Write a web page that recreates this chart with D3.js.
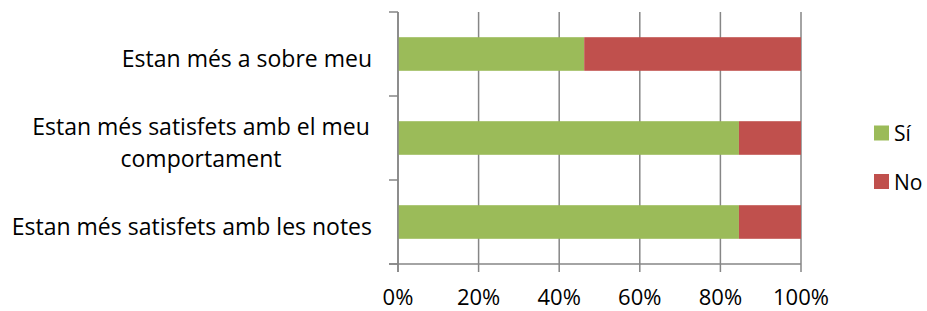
<!DOCTYPE html>
<html>
<head>
  <meta charset="utf-8">
  <title>Estan més...</title>
  <style>
    body { margin: 0; background: #fff; }
    svg text { font-family: "Open Sans", sans-serif; fill: #000; }
  </style>
  <script src="https://cdnjs.cloudflare.com/ajax/libs/d3/7.6.1/d3.min.js"></script>
</head>
<body>
<svg id="chart" width="927" height="311"></svg>
<script>
  var categories = [
    ["Estan més a sobre meu"],
    ["Estan més satisfets amb el meu", "comportament"],
    ["Estan més satisfets amb les notes"]
  ];
  var series = ["Sí", "No"];
  var si = [46.2, 84.6, 84.6];
  var no = [53.8, 15.4, 15.4];
  var ticks = [0, 20, 40, 60, 80, 100];
  var colors = ["#9bbb59", "#c0504d"];

  var svg = d3.select("#chart");
  var pLeft = 398, pRight = 801, pTop = 12, pBottom = 264;
  var fs = 23;

  var x = d3.scaleLinear().domain([0, 100]).range([pLeft, pRight]);
  var y = d3.scaleBand().domain(d3.range(categories.length)).range([pTop, pBottom]);
  var barH = y.bandwidth() * 0.4;

  // gridlines
  svg.append("g").selectAll("line").data(ticks).enter().append("line")
    .attr("x1", d => x(d)).attr("x2", d => x(d))
    .attr("y1", pTop).attr("y2", pBottom + 8)
    .attr("stroke", "#868686").attr("stroke-width", 1.5);

  // bars
  categories.forEach(function(c, i) {
    var x0 = 0;
    [si[i], no[i]].forEach(function(v, k) {
      svg.append("rect")
        .attr("x", x(x0)).attr("width", x(x0 + v) - x(x0))
        .attr("y", y(i) + (y.bandwidth() - barH) / 2).attr("height", barH)
        .attr("fill", colors[k]);
      x0 += v;
    });
  });

  // y axis line and category ticks
  svg.append("line").attr("x1", pLeft).attr("x2", pLeft).attr("y1", pTop).attr("y2", pBottom + 8)
    .attr("stroke", "#868686").attr("stroke-width", 1.5);
  var yTicks = d3.range(categories.length + 1).map(i => pTop + i * y.step());
  svg.append("g").selectAll("line").data(yTicks).enter().append("line")
    .attr("x1", pLeft - 9).attr("x2", pLeft).attr("y1", d => d).attr("y2", d => d)
    .attr("stroke", "#868686").attr("stroke-width", 1.5);
  svg.append("line").attr("x1", pLeft - 9).attr("x2", pRight).attr("y1", pBottom).attr("y2", pBottom)
    .attr("stroke", "#868686").attr("stroke-width", 1.5);

  // x tick labels
  svg.append("g").selectAll("text").data(ticks).enter().append("text")
    .attr("x", d => x(d)).attr("y", 305)
    .attr("text-anchor", "middle").attr("font-size", 22)
    .text(d => d + "%");

  // category labels
  categories.forEach(function(lines, i) {
    var cy = y(i) + y.bandwidth() / 2;
    var lh = 31.5;
    var t = svg.append("text").attr("text-anchor", lines.length > 1 ? "middle" : "end")
      .attr("font-size", fs);
    lines.forEach(function(s, j) {
      var xx = lines.length > 1 ? 201 : 372;
      t.append("tspan").attr("x", xx)
        .attr("y", cy + 13 + (j - (lines.length - 1) / 2) * lh)
        .text(s);
    });
  });

  // legend
  series.forEach(function(s, k) {
    var ly = 133 + k * 48.5;
    svg.append("rect").attr("x", 874).attr("y", ly - 7.5).attr("width", 15).attr("height", 15)
      .attr("fill", colors[k]);
    svg.append("text").attr("x", 894).attr("y", ly + 8).attr("font-size", 21).text(s);
  });
</script>
</body>
</html>
